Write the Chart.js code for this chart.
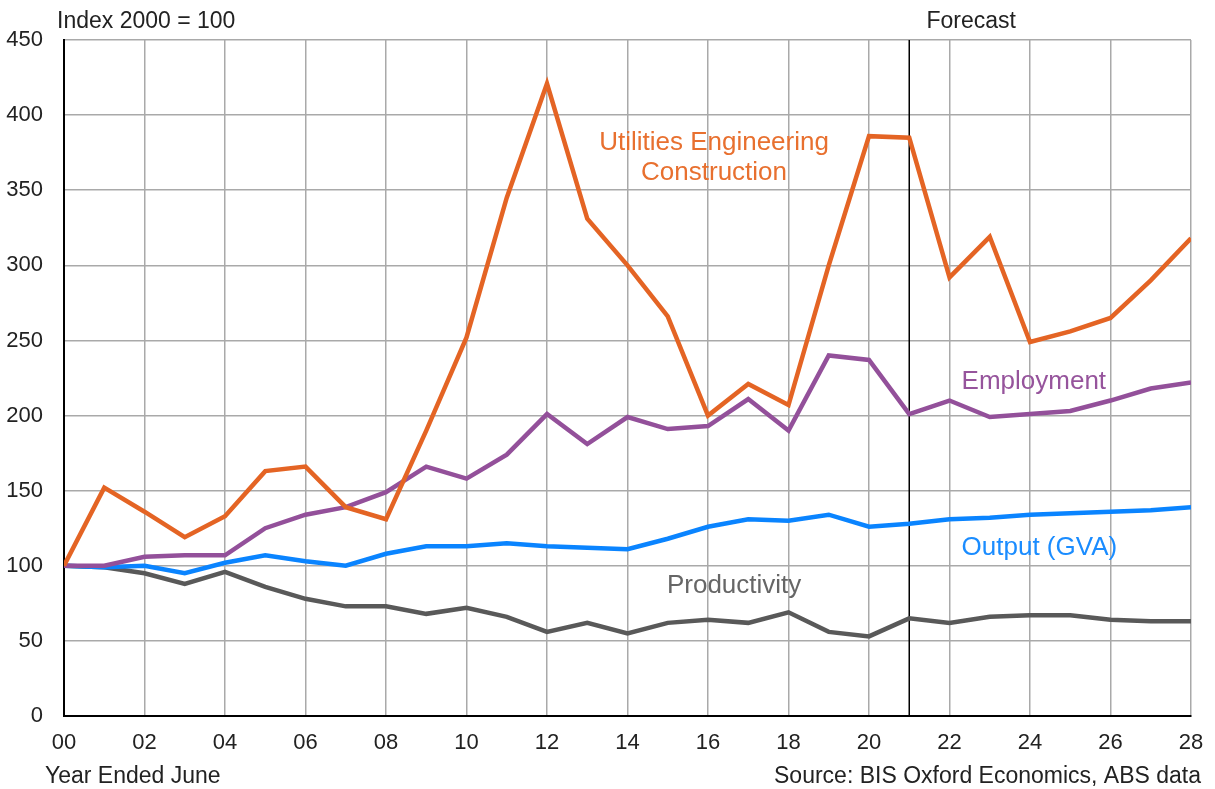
<!DOCTYPE html>
<html>
<head>
<meta charset="utf-8">
<script src="https://cdn.jsdelivr.net/npm/chart.js@4"></script>
<style>
  body { margin: 0; background: #fff; }
  #wrap { width: 1215px; height: 789px; }
</style>
</head>
<body>
<div id="wrap"><canvas id="grafica" width="1215" height="789"></canvas></div>
<script>
// years ended June, 2000 = 0
const years = [0,1,2,3,4,5,6,7,8,9,10,11,12,13,14,15,16,17,18,19,20,21,22,23,24,25,26,27,28];

const utilities = [100,152,136,119,133,163,166,139,131,190,252,345,421,331,300,266,200,221,207,300,386,385,292,319,249,256,265,290,318];
const employment = [100,100,106,107,107,125,134,139,149,166,158,174,201,181,199,191,193,211,190,240,237,201,210,199,201,203,210,218,222];
const output = [100,99,100,95,102,107,103,100,108,113,113,115,113,112,111,118,126,131,130,134,126,128,131,132,134,135,136,137,139];
const productivity = [100,99,95,88,96,86,78,73,73,68,72,66,56,62,55,62,64,62,69,56,53,65,62,66,67,67,64,63,63];

const forecastStart = 21;
const fuente = "'Liberation Sans', Arial, sans-serif";

const pares = arr => arr.map((v, i) => ({ x: years[i], y: v }));

// series labels written inside the plot
const etiquetas = [
  { lines: ['Utilities Engineering', 'Construction'], x: 16.15, y: 377, step: 20, align: 'center', color: '#E8702F' },
  { lines: ['Employment'], x: 22.3, y: 218, align: 'left', color: '#96549C' },
  { lines: ['Output (GVA)'], x: 22.3, y: 107, align: 'left', color: '#1A8CFF' },
  { lines: ['Productivity'], x: 14.98, y: 82, align: 'left', color: '#666666' }
];

const extras = {
  id: 'extras',
  beforeDatasetsDraw(chart) {
    const { ctx, chartArea, scales } = chart;
    const fx = scales.x.getPixelForValue(forecastStart);
    ctx.save();
    ctx.strokeStyle = '#000';
    ctx.lineWidth = 1.5;
    ctx.beginPath();
    ctx.moveTo(fx, chartArea.top);
    ctx.lineTo(fx, chartArea.bottom);
    ctx.stroke();
    ctx.restore();
  },
  afterDraw(chart) {
    const { ctx, scales } = chart;
    ctx.save();
    ctx.font = '23px ' + fuente;
    ctx.fillStyle = '#222';
    ctx.textBaseline = 'alphabetic';
    ctx.textAlign = 'left';
    ctx.fillText('Index 2000 = 100', 57, 28);
    ctx.fillText('Year Ended June', 45, 783);
    ctx.textAlign = 'center';
    ctx.fillText('Forecast', scales.x.getPixelForValue(forecastStart) + 62, 28);
    ctx.textAlign = 'right';
    ctx.fillText('Source: BIS Oxford Economics, ABS data', 1201, 783);

    ctx.font = '26px ' + fuente;
    etiquetas.forEach(e => {
      ctx.fillStyle = e.color;
      ctx.textAlign = e.align;
      const px = scales.x.getPixelForValue(e.x);
      e.lines.forEach((t, k) => {
        const py = scales.y.getPixelForValue(e.y - k * (e.step || 0));
        ctx.fillText(t, px, py);
      });
    });
    ctx.restore();
  }
};

const ctx1 = document.getElementById('grafica').getContext('2d');

new Chart(ctx1, {
  type: 'line',
  data: {
    datasets: [
      { label: 'Utilities Engineering Construction', data: pares(utilities), borderColor: '#E46424' },
      { label: 'Employment', data: pares(employment), borderColor: '#93509A' },
      { label: 'Output (GVA)', data: pares(output), borderColor: '#0A84FF' },
      { label: 'Productivity', data: pares(productivity), borderColor: '#595959' }
    ].map(d => Object.assign(d, { borderWidth: 4.5, pointRadius: 0, tension: 0, fill: false }))
  },
  options: {
    responsive: false,
    animation: false,
    layout: { padding: { top: 40, right: 24, left: 0, bottom: 0 } },
    plugins: {
      legend: { display: false },
      tooltip: { enabled: false }
    },
    scales: {
      x: {
        type: 'linear',
        min: 0,
        max: 28,
        afterFit: s => { s.height = 73; s.paddingLeft = 0; s.paddingRight = 0; },
        ticks: {
          stepSize: 2,
          padding: 14,
          color: '#222',
          font: { family: fuente, size: 22 },
          callback: v => String(v).padStart(2, '0'),
          maxRotation: 0
        },
        grid: { color: '#a9a9a9', lineWidth: 1.5, drawTicks: false },
        border: { color: '#000', width: 2 }
      },
      y: {
        min: 0,
        max: 450,
        afterFit: s => { s.width = 64; s.paddingTop = 0; s.paddingBottom = 0; },
        ticks: {
          stepSize: 50,
          padding: 21,
          color: '#222',
          font: { family: fuente, size: 22 }
        },
        grid: { color: '#a9a9a9', lineWidth: 1.5, drawTicks: false },
        border: { color: '#000', width: 2 }
      }
    }
  },
  plugins: [extras]
});
</script>
</body>
</html>
